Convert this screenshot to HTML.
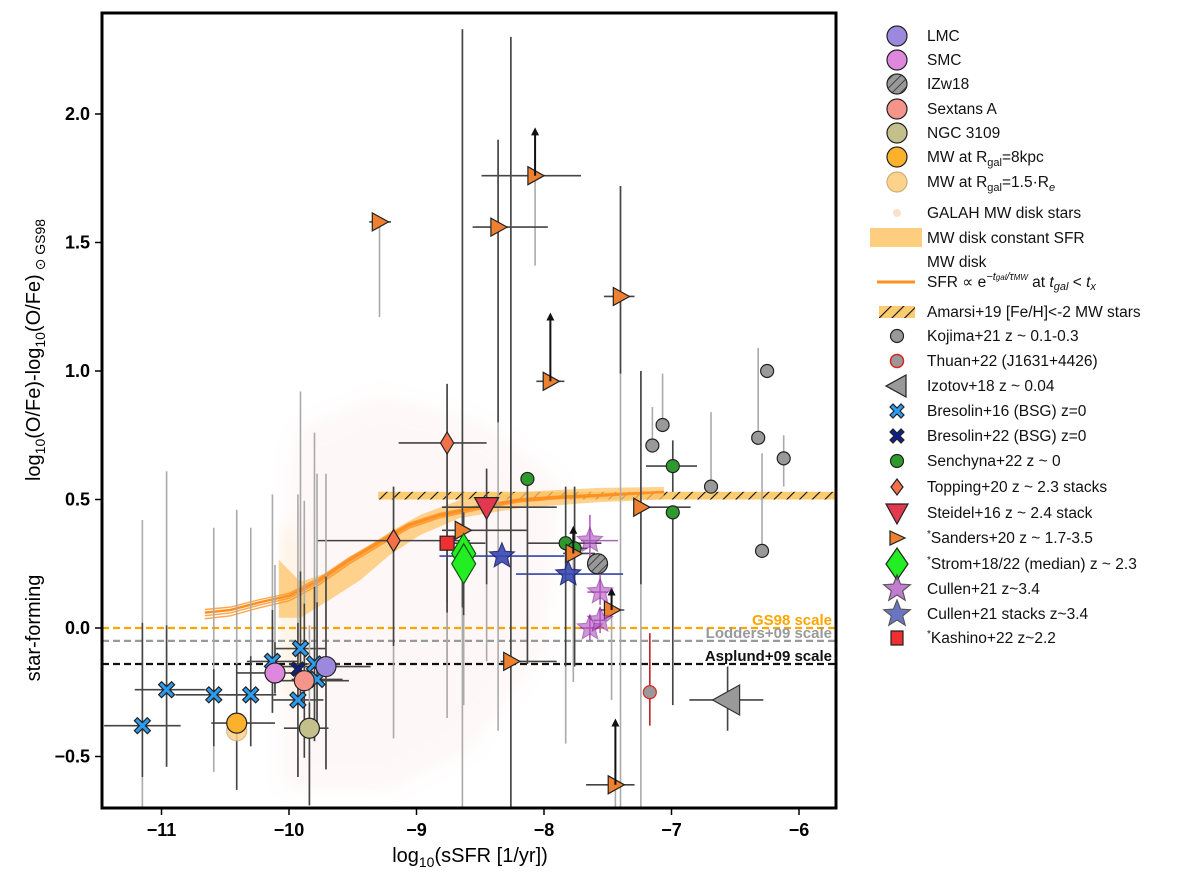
<!DOCTYPE html>
<html><head><meta charset="utf-8"><style>
html,body{margin:0;padding:0;background:#fff;overflow:hidden;width:1200px;height:882px;}
svg{display:block;font-family:"Liberation Sans","DejaVu Sans",sans-serif;}
</style></head><body>
<svg id="chart" width="1200" height="882" viewBox="0 0 1200 882" xmlns="http://www.w3.org/2000/svg" overflow="hidden">
<defs>
<pattern id="hatch" width="9" height="9" patternUnits="userSpaceOnUse" patternTransform="rotate(45)">
<rect width="9" height="9" fill="#fdcc70"/><line x1="0" y1="0" x2="0" y2="9" stroke="#111" stroke-width="2.2"/></pattern>
<pattern id="hatchg" width="6" height="6" patternUnits="userSpaceOnUse" patternTransform="rotate(45)">
<rect width="6" height="6" fill="#999"/><line x1="0" y1="0" x2="0" y2="6" stroke="#222" stroke-width="1.5"/></pattern>
<filter id="blur"><feGaussianBlur stdDeviation="10"/></filter>
<clipPath id="plotclip"><rect x="102" y="13" width="734" height="795"/></clipPath>
</defs>
<g id="plot" clip-path="url(#plotclip)"></g>
<g id="axes"></g>
<g id="legend"></g>
</svg>
<script>
// ---- data (x = log10 sSFR, y = [O/Fe]) ----
const xTicks=[-11,-10,-9,-8,-7,-6];
const yTicks=[-0.5,0.0,0.5,1.0,1.5,2.0];
const yTickLabels=["−0.5","0.0","0.5","1.0","1.5","2.0"];
const scaleNames=["GS98 scale","Lodders+09 scale","Asplund+09 scale"];
const scaleValues=[0,-0.05,-0.14];
const scaleColors=["#ffa500","#999999","#111111"];

const sandersX=[-9.29,-8.07,-8.36,-7.40,-7.95,-8.64,-7.77,-7.24,-7.47,-8.26,-7.44];
const sandersY=[1.58,1.76,1.56,1.29,0.96,0.38,0.29,0.47,0.07,-0.13,-0.61];
const sandersXerr=[[.08,.09],[.42,.36],[.2,.39],[.13,.11],[.11,.11],[.16,.51],[.08,.17],[.01,.39],[.1,.1],[.08,.36],[.23,.15]];
const sandersYerr=[[0,0],[0,0],[.76,.34],[.3,.43],[0,0],[.3,1.95],[0,0],[.3,.53],[0,0],[.67,2.43],[0,0]];
const sandersGrey=[[.37,0],[.35,0],[1.2,0],[1.74,0],[0,0],[.9,0],[.5,0],[.9,0],[.35,0],[.6,0],[.3,0]];
const sandersArrow=[0,.18,0,0,.26,0,.1,0,.08,0,.25];

const toppingX=[-8.76,-9.18];
const toppingY=[0.72,0.34];
const toppingXerr=[[.38,.31],[.6,.6]];
const toppingYerr=[[.62,.23],[.41,.21]];

const steidelX=[-8.45]; const steidelY=[0.47];
const kashinoX=[-8.76]; const kashinoY=[0.33];
const stromX=[-8.63,-8.63]; const stromY=[0.29,0.25];
const cullenStackX=[-8.33,-7.81]; const cullenStackY=[0.28,0.21];
const cullenStackXerr=[[.49,.49],[.41,.43]];
const cullenX=[-7.64,-7.56,-7.64,-7.56]; const cullenY=[0.34,0.14,0.0,0.03];
const izwX=[-7.58]; const izwY=[0.25];
const senchynaX=[-8.13,-7.83,-7.76,-6.99,-6.99];
const senchynaY=[0.58,0.33,0.31,0.63,0.45];
const senchynaYerr=[[.72,0],[.48,.22],[.46,.24],[.1,.1],[.75,0]];
const senchynaXerr=[[0,0],[.3,.28],[.1,.1],[.21,.19],[0,0]];
const kojimaX=[-7.07,-7.15,-6.32,-6.69,-6.12,-6.29,-6.25];
const kojimaY=[0.79,0.71,0.74,0.55,0.66,0.30,1.00];
const kojimaYerr=[[0,.2],[0,.15],[0,.35],[0,.29],[.11,.09],[0,.38],[0,0]];
const thuanX=[-7.17]; const thuanY=[-0.25];
const izotovX=[-6.56]; const izotovY=[-0.28];
const bres16X=[-11.15,-10.96,-10.59,-10.30,-9.91,-9.93,-10.13,-9.80,-9.78];
const bres16Y=[-0.38,-0.24,-0.26,-0.26,-0.08,-0.28,-0.13,-0.14,-0.20];
const bres22X=[-9.93]; const bres22Y=[-0.16];
const localNames=["LMC","SMC","Sextans A","NGC 3109","MW 8kpc","MW 1.5Re"];
const localX=[-9.71,-10.11,-9.88,-9.84,-10.41,-10.41];
const localY=[-0.15,-0.175,-0.205,-0.39,-0.37,-0.40];
const localColors=["#9c88dd","#dd88dd","#f4948a","#c4c08c","#fbb12b","#fdd28a"];
const localXerr=[[.4,.35],[.3,.2],[.25,.35],[.2,.15],[.2,.3],[0,0]];
const localYerr=[[.4,.35],[.08,.12],[.3,.3],[.3,.1],[.26,.23],[0,0]];
// MW disk model curve & band
const curveX=[-10.66,-10.46,-10.23,-10.0,-9.76,-9.53,-9.29,-9.06,-8.82,-8.51,-8.20,-7.88,-7.57,-7.25,-7.06];
const curveY=[0.06,0.07,0.10,0.125,0.187,0.265,0.335,0.401,0.44,0.471,0.498,0.51,0.517,0.525,0.529];
const bandX=[-10.08,-9.91,-9.68,-9.44,-9.21,-8.97,-8.66,-8.19,-7.57,-7.06];
const bandTop=[0.265,0.18,0.218,0.296,0.374,0.44,0.498,0.529,0.545,0.549];
const bandBot=[0.04,0.04,0.11,0.187,0.284,0.362,0.428,0.467,0.49,0.5];
const amarsiRange=[-9.3,-5.71]; const amarsiY=[0.50,0.53];

// ---- scales ----
const X=v=>289+(v+10)*127.5;
const Y=v=>628-v*257;
const CY=p=>Math.max(13,Math.min(808,p));
const NS="http://www.w3.org/2000/svg";
function el(parent,tag,attrs){const e=document.createElementNS(NS,tag);for(const k in attrs)e.setAttribute(k,attrs[k]);parent.appendChild(e);return e;}
const plot=document.getElementById('plot');
const axes=document.getElementById('axes');
const legend=document.getElementById('legend');

// GALAH cloud
let cloud=el(plot,'polygon',{points:"283,790 283,560 295,430 380,395 480,420 560,480 545,650 470,750 390,790",fill:"#fce6e6",opacity:"0.3",filter:"url(#blur)"});


let glow=el(plot,'polygon',{points:"281,530 296,525 304,690 284,700",fill:"#fde3b0",opacity:"0.4",filter:"url(#blur)"});



// scale lines
scaleValues.forEach((v,i)=>{
  const l=el(plot,'line',{x1:102,x2:836,y1:Y(v),y2:Y(v),stroke:scaleColors[i],'stroke-width':2.2,'stroke-dasharray':'7,4'});
  
  
  const t=el(plot,'text',{x:832,y:Y(v)-3,'text-anchor':'end','font-size':15,'font-weight':'bold',fill:scaleColors[i]});
  t.textContent=scaleNames[i];
  
  
});

// Amarsi band
const am=el(plot,'rect',{x:X(amarsiRange[0]),y:Y(amarsiY[1]),width:X(amarsiRange[1])-X(amarsiRange[0]),height:Y(amarsiY[0])-Y(amarsiY[1]),fill:'url(#hatch)'});



// MW constant SFR band
let pts=bandX.map((x,i)=>X(x)+','+Y(bandTop[i]));
pts=pts.concat(bandX.slice().reverse().map((x,i)=>X(x)+','+Y(bandBot[bandX.length-1-i])));
const band=el(plot,'polygon',{points:pts.join(' '),fill:'#fdc46a',opacity:'0.75'});


[0,-0.012,0.012,-0.024].forEach((d,k)=>{
  const c=el(plot,'polyline',{points:curveX.map((x,i)=>X(x)+','+Y(curveY[i]+d*(1-i/curveX.length))).join(' '),fill:'none',stroke:'#ff9020','stroke-width':k==0?2.5:1.4,opacity:k==0?1:0.8});
  
  
});

function errbars(xs,ys,xerr,yerr,grey,col){
  xs.forEach((x,i)=>{
    if(grey&&grey[i]){const g=el(plot,'line',{x1:X(x),x2:X(x),y1:CY(Y(ys[i]-grey[i][0]-(yerr?yerr[i][0]:0))),y2:CY(Y(ys[i]+grey[i][1]+(yerr?yerr[i][1]:0))),stroke:'#aaa','stroke-width':1.6});
      }
    if(yerr&&yerr[i]&&(yerr[i][0]||yerr[i][1])){const l=el(plot,'line',{x1:X(x),x2:X(x),y1:CY(Y(ys[i]-yerr[i][0])),y2:CY(Y(ys[i]+yerr[i][1])),stroke:col||'#444','stroke-width':1.6});
      }
    if(xerr&&xerr[i]&&(xerr[i][0]||xerr[i][1])){const l=el(plot,'line',{x1:X(x-xerr[i][0]),x2:X(x+xerr[i][1]),y1:Y(ys[i]),y2:Y(ys[i]),stroke:col||'#444','stroke-width':1.6});
      }
  });
}
function shape(g,type,cx,cy,s,fill,stroke,op){
  let e;
  const a={fill:fill,stroke:stroke||'#222','stroke-width':1.2};
  if(op!==undefined)a.opacity=op;
  if(type==='circle'){a.cx=cx;a.cy=cy;a.r=s;e=el(g,'circle',a);}
  else if(type==='square'){a.x=cx-s;a.y=cy-s;a.width=2*s;a.height=2*s;e=el(g,'rect',a);}
  else{
    let p;
    if(type==='tri-right')p=[[-s*.8,-s],[s,0],[-s*.8,s]];
    if(type==='tri-left')p=[[s*.8,-s],[-s,0],[s*.8,s]];
    if(type==='tri-down')p=[[-s,-s*.8],[s,-s*.8],[0,s]];
    if(type==='diamond')p=[[0,-s],[s*.6,0],[0,s],[-s*.6,0]];
    if(type==='cross'){const w=s*.38;p=[[-s,-s+w],[-s+w,-s],[0,-w],[s-w,-s],[s,-s+w],[w,0],[s,s-w],[s-w,s],[0,w],[-s+w,s],[-s,s-w],[-w,0]];}
    if(type==='star'){p=[];for(let k=0;k<10;k++){const r=k%2?s*0.45:s;const an=-Math.PI/2+k*Math.PI/5;p.push([r*Math.cos(an),r*Math.sin(an)]);}}
    a.points=p.map(q=>(cx+q[0]).toFixed(1)+','+(cy+q[1]).toFixed(1)).join(' ');
    e=el(g,'polygon',a);
  }
  return e;
}
function series(name,xs,ys,type,s,fill,stroke,op){
  const g=el(plot,'g',{});
  
  
  xs.forEach((x,i)=>{
    const m=shape(g,type,X(x),Y(ys[i]),s,Array.isArray(fill)?fill[i]:fill,stroke,op);
    
    
  });
}
function arrows(xs,ys,lens){
  xs.forEach((x,i)=>{ if(!lens[i])return;
    const x0=X(x),y0=Y(ys[i]),y1=Y(ys[i]+lens[i]);
    const l=el(plot,'line',{x1:x0,x2:x0,y1:y0,y2:y1+5,stroke:'#111','stroke-width':2});
    
    const h=el(plot,'polygon',{points:`${x0-4},${y1+6} ${x0+4},${y1+6} ${x0},${y1-2}`,fill:'#111'});
    
  });
}

// error bars
errbars(sandersX,sandersY,sandersXerr,sandersYerr,sandersGrey);
errbars(toppingX,toppingY,toppingXerr,toppingYerr,[[.45,0],[.36,0]]);
errbars(steidelX,steidelY,[[.35,.55]],[[.3,.15]],[[.3,0]]);
errbars(kashinoX,kashinoY,[[.05,.3]],[[.27,.12]],[[.2,0]]);
errbars(stromX,stromY,[[0,0],[0,0]],[[0,0],[.2,.2]],[[0,0],[.35,0]]);
errbars(cullenStackX,cullenStackY,cullenStackXerr,null,null,'#3344aa');
errbars(cullenX,cullenY,[[.07,.22],[.1,.06],[.08,.08],[.05,.05]],[[.1,.1],[.05,.1],[.05,.05],[.05,.05]],null,'#b060c0');
errbars(senchynaX,senchynaY,senchynaXerr,senchynaYerr,[[0,0],[.3,0],[0,0],[0,0],[0,0]]);
errbars(kojimaX,kojimaY,null,null,kojimaYerr);
errbars(thuanX,thuanY,[[.05,.05]],[[.13,.23]],null,'#c02020');
errbars(izotovX,izotovY,[[.3,.28]],[[.12,.13]]);
errbars(bres16X,bres16Y,[[.3,.3],[.25,.3],[.3,.3],[.2,.2],[.2,.2],[.2,.2],[.2,.2],[.2,.2],[.2,.2]],[[.2,.4],[.3,.25],[.2,.1],[.2,.15],[.2,.3],[.3,.3],[.2,.2],[.3,.3],[.2,.3]],[[.2,.4],[0,.6],[.1,.55],[0,.5],[0,.7],[0,.5],[0,.45],[0,.6],[0,.5]]);
errbars(localX,localY,localXerr,localYerr,[[0,.4],[0,.3],[0,.4],[0,.3],[0,.6],[0,0]]);

// markers
series('mw-1p5re',[localX[5]],[localY[5]],'circle',10,localColors[5],'#ccb07a',0.85);
series('mw-8kpc',[localX[4]],[localY[4]],'circle',10,localColors[4]);
series('bresolin16',bres16X,bres16Y,'cross',8,'#2b9cf0');
series('bresolin22',bres22X,bres22Y,'cross',7,'#10208a');
series('ngc3109',[localX[3]],[localY[3]],'circle',10,localColors[3]);
series('smc',[localX[1]],[localY[1]],'circle',10,localColors[1]);
series('sextans-a',[localX[2]],[localY[2]],'circle',10,localColors[2]);
series('lmc',[localX[0]],[localY[0]],'circle',10,localColors[0]);
series('kojima21',kojimaX,kojimaY,'circle',6.5,'#999');
series('thuan22',thuanX,thuanY,'circle',6.5,'#999','#e02020');
series('izotov18',izotovX,izotovY,'tri-left',15,'#999','#333');
series('senchyna22',senchynaX,senchynaY,'circle',6.5,'#2e9a2e');
series('topping20',toppingX,toppingY,'diamond',11,'#f4704a');
series('steidel16',steidelX,steidelY,'tri-down',12,'#e23850');
series('sanders20',sandersX,sandersY,'tri-right',9,'#ee8030');
arrows(sandersX,sandersY,sandersArrow);
series('kashino22',kashinoX,kashinoY,'square',7,'#ee3030');
series('strom18',stromX,stromY,'diamond',20,'#22ee22','#115511');
series('cullen21-stacks',cullenStackX,cullenStackY,'star',13,'#3848b0','#1a2270',0.9);
series('cullen21',cullenX,cullenY,'star',13,'#b050c0','#802090',0.6);
const izg=el(plot,'circle',{cx:X(izwX[0]),cy:Y(izwY[0]),r:10,fill:'url(#hatchg)',stroke:'#222','stroke-width':1.2});



// axes frame
const fr=el(axes,'rect',{x:102,y:13,width:734,height:795,fill:'none',stroke:'#000','stroke-width':3});

xTicks.forEach(v=>{
  const t=el(axes,'line',{x1:X(v),x2:X(v),y1:808,y2:815,stroke:'#000','stroke-width':1.5});
  
  const l=el(axes,'text',{x:X(v),y:836,'text-anchor':'middle','font-size':18,'font-weight':'bold'});
  l.textContent='−'+Math.abs(v);
  
});
yTicks.forEach((v,i)=>{
  const t=el(axes,'line',{x1:95,x2:102,y1:Y(v),y2:Y(v),stroke:'#000','stroke-width':1.5});
  
  const l=el(axes,'text',{x:90,y:Y(v)+6,'text-anchor':'end','font-size':18,'font-weight':'bold'});
  l.textContent=yTickLabels[i];
  
});

// axis titles
const xt=el(axes,'text',{x:470,y:862,'text-anchor':'middle','font-size':20});
xt.innerHTML='log<tspan font-size="14" dy="5">10</tspan><tspan dy="-5">(sSFR [1/yr])</tspan>';


const yt=el(axes,'text',{transform:'translate(40,350) rotate(-90)','text-anchor':'middle','font-size':20});
yt.innerHTML='log<tspan font-size="14" dy="5">10</tspan><tspan dy="-5">(O/Fe)-log</tspan><tspan font-size="14" dy="5">10</tspan><tspan dy="-5">(O/Fe)</tspan><tspan font-size="14" dy="5"> ⊙ GS98</tspan>';


const yt2=el(axes,'text',{transform:'translate(40,628) rotate(-90)','text-anchor':'middle','font-size':20});
yt2.textContent='star-forming';



// legend
const legendLabels=["LMC","SMC","IZw18","Sextans A","NGC 3109","MW at R<tspan font-size='11' dy='4'>gal</tspan><tspan dy='-4'>=8kpc</tspan>","MW at R<tspan font-size='11' dy='4'>gal</tspan><tspan dy='-4'>=1.5·R</tspan><tspan font-size='11' dy='4' font-style='italic'>e</tspan>","GALAH MW disk stars","MW disk constant SFR","MW disk","Amarsi+19 [Fe/H]&lt;-2 MW stars","Kojima+21 z ~ 0.1-0.3","Thuan+22 (J1631+4426)","Izotov+18 z ~ 0.04","Bresolin+16 (BSG) z=0","Bresolin+22 (BSG) z=0","Senchyna+22 z ~ 0","Topping+20 z ~ 2.3 stacks","Steidel+16 z ~ 2.4 stack","<tspan font-size='10' dy='-6'>*</tspan><tspan dy='6'>Sanders+20 z ~ 1.7-3.5</tspan>","<tspan font-size='10' dy='-6'>*</tspan><tspan dy='6'>Strom+18/22 (median) z ~ 2.3</tspan>","Cullen+21 z~3.4","Cullen+21 stacks z~3.4","<tspan font-size='10' dy='-6'>*</tspan><tspan dy='6'>Kashino+22 z~2.2</tspan>"];
const legendY=[36,60,84,109,133,157,182,213,238,262,312,336,361,386,411,436,461,487,513,538,564,589,614,638];
const mk=[["c","#9c88dd"],["c","#dd88dd"],["h",""],["c","#f4948a"],["c","#c4c08c"],["c","#fbb12b"],["c","#fdd28a"],["g",""],["b",""],["l",""],["a",""],["c7","#999"],["cr","#999"],["tl","#999"],["x","#2b9cf0"],["x","#10208a"],["c7","#2e9a2e"],["d","#f4704a"],["td","#e23850"],["tr","#ee8030"],["D","#22ee22"],["s","#b050c0"],["s","#3848b0"],["q","#ee3030"]];
const mx=897;
legendLabels.forEach((lab,i)=>{
  const y=legendY[i];const g=el(legend,'g',{});
  
  
  const t=mk[i][0],f=mk[i][1];
  if(t==='c')el(g,'circle',{cx:mx,cy:y,r:10,fill:f,stroke:i==6?'#ccb07a':'#222','stroke-width':1.2});
  if(t==='h')el(g,'circle',{cx:mx,cy:y,r:10,fill:'url(#hatchg)',stroke:'#222','stroke-width':1.2});
  if(t==='c7')el(g,'circle',{cx:mx,cy:y,r:6.5,fill:f,stroke:'#222','stroke-width':1.2});
  if(t==='cr')el(g,'circle',{cx:mx,cy:y,r:6.5,fill:f,stroke:'#e02020','stroke-width':1.5});
  if(t==='g')el(g,'circle',{cx:mx,cy:y,r:4,fill:'#fde0c8'});
  if(t==='b')el(g,'rect',{x:870,y:y-10,width:52,height:19,fill:'#fdc46a',opacity:.85});
  if(t==='l')el(g,'line',{x1:877,x2:915,y1:y+20,y2:y+20,stroke:'#ff9020','stroke-width':3});
  if(t==='a')el(g,'rect',{x:879,y:y-6,width:36,height:12,fill:'url(#hatch)'});
  let p=null;
  if(t==='tl')p=[[9,-11],[-11,0],[9,11]];
  if(t==='x'){const w=3;p=[[-7,-7+w],[-7+w,-7],[0,-w],[7-w,-7],[7,-7+w],[w,0],[7,7-w],[7-w,7],[0,w],[-7+w,7],[-7,7-w],[-w,0]];}
  if(t==='d')p=[[0,-8],[6,0],[0,8],[-6,0]];
  if(t==='td')p=[[-11,-9],[11,-9],[0,11]];
  if(t==='tr')p=[[-7,-7],[8,0],[-7,7]];
  if(t==='D')p=[[0,-16],[11,0],[0,16],[-11,0]];
  if(t==='s'){p=[];for(let k=0;k<10;k++){const r=k%2?6:14;const an=-Math.PI/2+k*Math.PI/5;p.push([r*Math.cos(an),r*Math.sin(an)]);}}
  if(t==='q')p=[[-6,-7],[6,-7],[6,7],[-6,7]];
  if(p)el(g,'polygon',{points:p.map(q=>(mx+q[0]).toFixed(1)+','+(y+q[1]).toFixed(1)).join(' '),fill:f,stroke:'#222','stroke-width':1.2,opacity:t==='s'?0.75:1});
  const tx=el(g,'text',{x:927,y:y+5,'font-size':15.5,fill:'#111'});
  tx.innerHTML=lab;
  if(t==='l'){const t2=el(g,'text',{x:927,y:y+25,'font-size':15.5,fill:'#111'});
    t2.innerHTML="SFR ∝  e<tspan font-size='11' dy='-7' font-style='italic'>−t</tspan><tspan font-size='8' font-style='italic'>gal</tspan><tspan font-size='11' font-style='italic'>/τ</tspan><tspan font-size='8' font-style='italic'>MW</tspan><tspan dy='7'> at </tspan><tspan font-style='italic'>t</tspan><tspan font-size='11' dy='3' font-style='italic'>gal</tspan><tspan dy='-3'> &lt; </tspan><tspan font-style='italic'>t</tspan><tspan font-size='11' dy='3' font-style='italic'>x</tspan>";}
});
</script>
</body></html>
